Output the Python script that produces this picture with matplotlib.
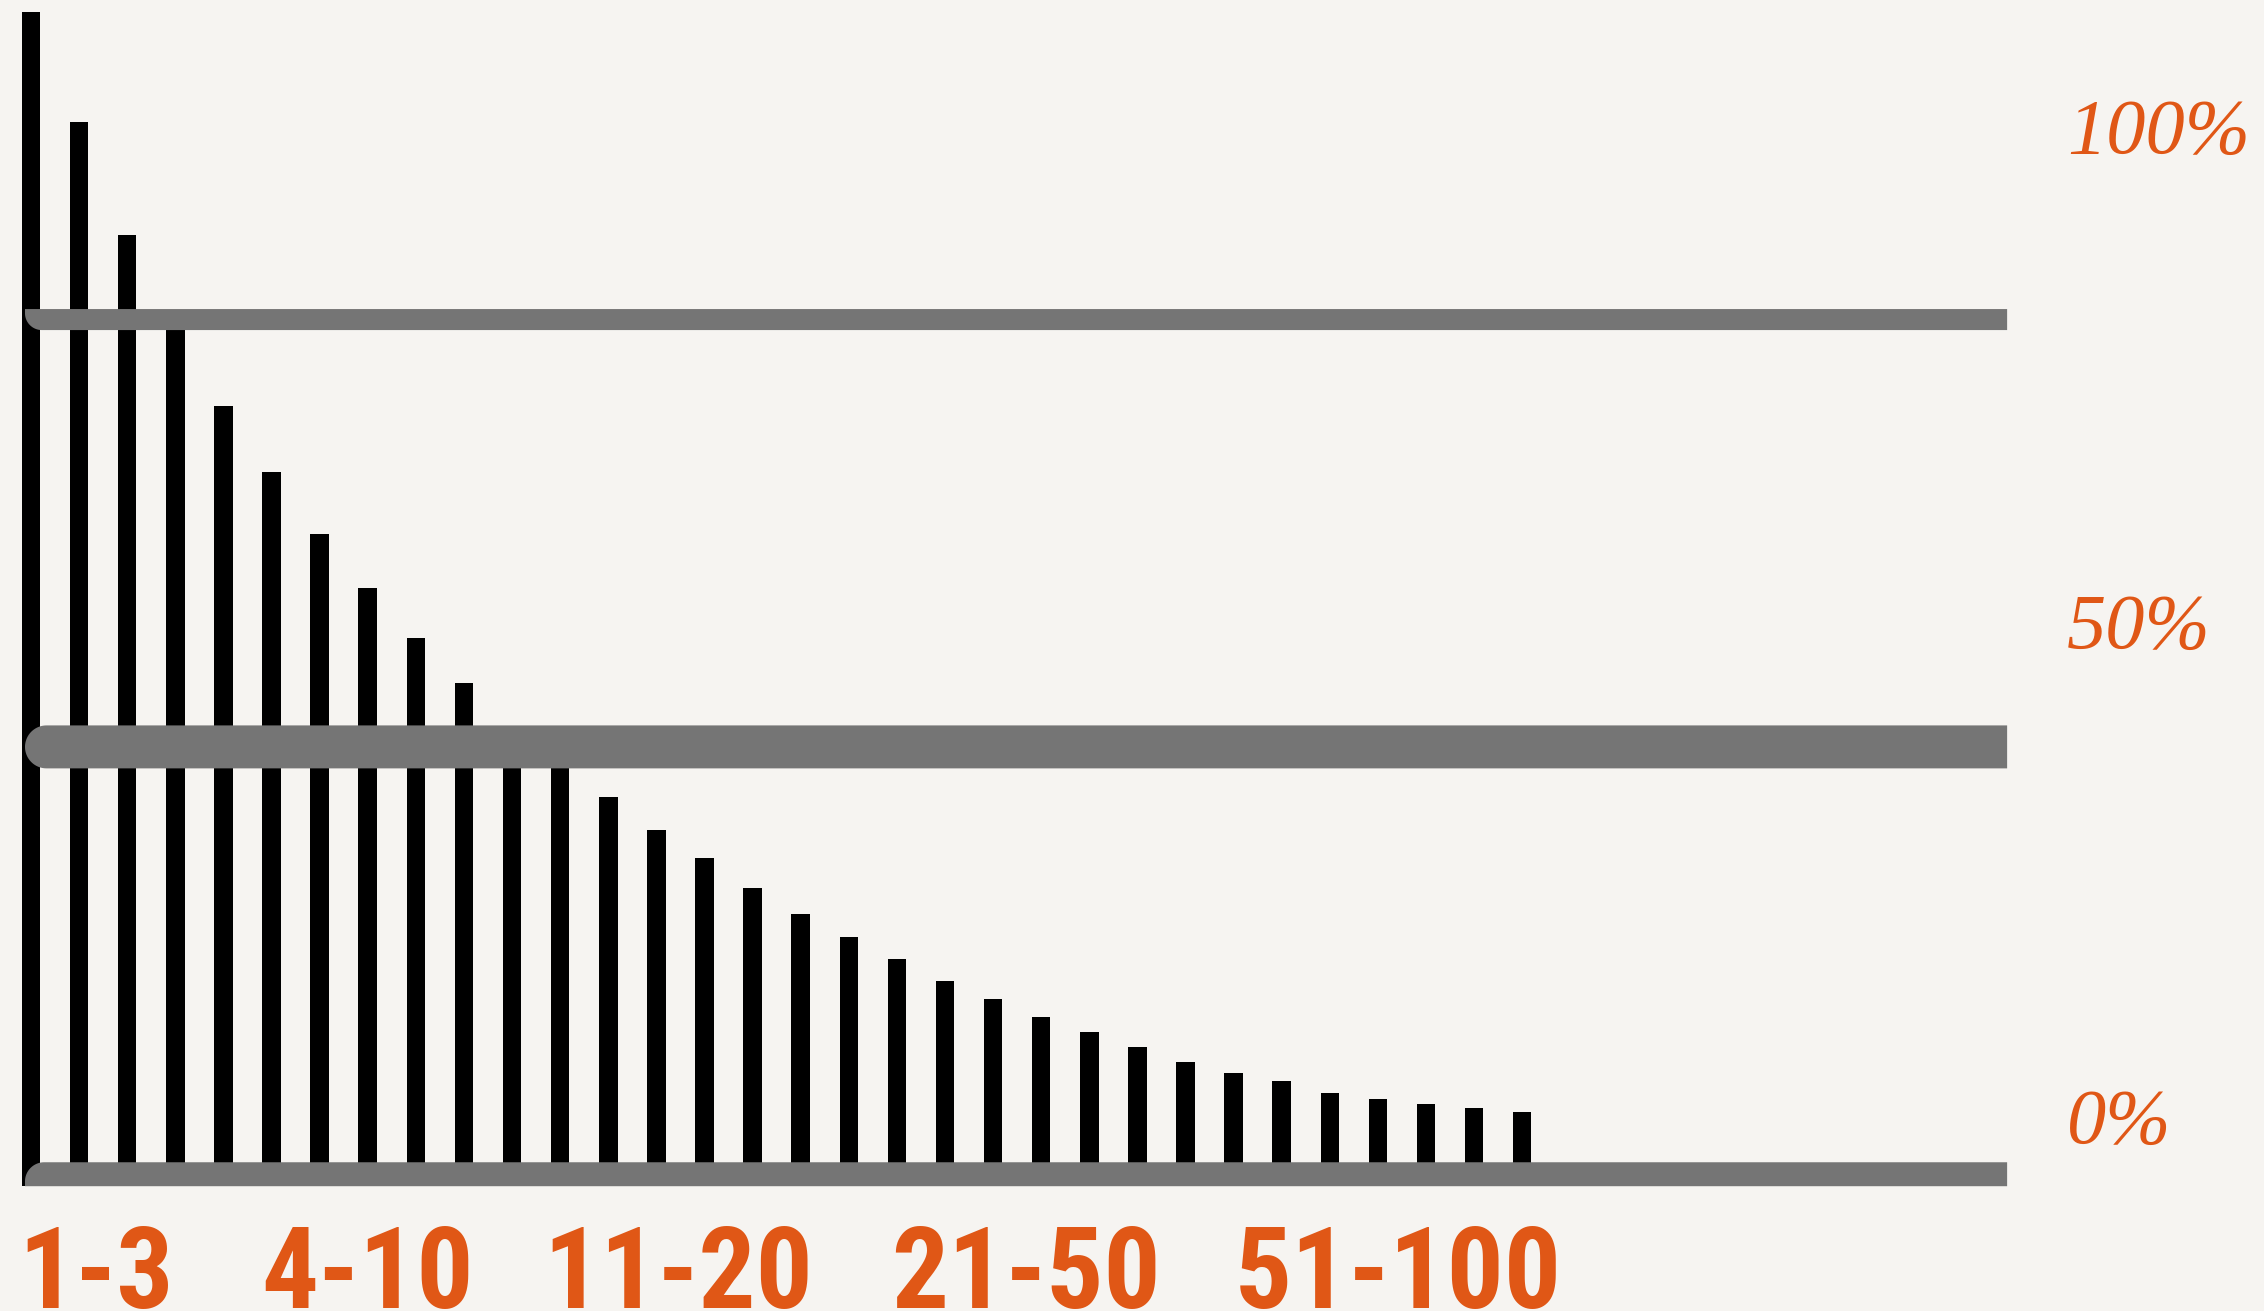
import numpy as np
import matplotlib
matplotlib.use("Agg")
import matplotlib.pyplot as plt
from matplotlib import font_manager
from matplotlib.patches import Polygon

# share of clicks by search position (first bar = reference, 100)
share = [100, 90.6, 81.0, 73.6, 66.4, 60.8, 55.5, 50.9, 46.7, 42.8,
         39.1, 36.0, 33.1, 30.3, 27.9, 25.4, 23.2, 21.2, 19.3, 17.5,
         15.9, 14.4, 13.1, 11.8, 10.6, 9.6, 8.9, 7.9, 7.4, 7.0, 6.6, 6.3]
rank = np.arange(len(share))

# bottom group labels and where they sit along the bars
range_labels = ["1-3", "4-10", "11-20", "21-50", "51-100"]
range_pos = [1.35, 6.99, 13.46, 20.68, 28.43]

# right side percentage labels
pct_labels = ["100%", "50%", "0%"]
pct_pos = [88.0, 45.8, 3.7]

# grey bands across the chart
band_levels = [73.8, 37.4, 1.0]
band_thick = [1.79, 3.66, 2.04]
band_ends = ["bl", "round", "tl"]

BG = "#f6f4f1"
ORANGE = "#e05716"
GREY = "#757575"

# pick the narrowest heavy sans that is installed
installed = {f.name for f in font_manager.fontManager.ttflist}
label_font = "DejaVu Sans"
for name in ["Liberation Sans Narrow", "Roboto Condensed", "Open Sans Condensed",
             "DejaVu Sans Condensed", "Roboto", "Inter"]:
    if name in installed:
        label_font = name
        break

fig = plt.figure(figsize=(22.64, 13.11), dpi=100)
fig.patch.set_facecolor(BG)
ax = fig.add_axes([0, 0, 1, 1])
ax.set_facecolor(BG)
ax.set_xlim(-0.6445, 46.42)
ax.set_ylim(-10.65, 101.02)
ax.axis("off")

ax.bar(rank, share, width=0.385, color="black", zorder=2)


def band(level, thick, x0, x1, end):
    # outline built in pixels so the rounded corner stays circular
    t = ax.transData
    px0, pyc = t.transform((x0, level))
    px1, _ = t.transform((x1, level))
    h = t.transform((0, thick))[1] - t.transform((0, 0))[1]
    top, bot = pyc + h / 2, pyc - h / 2
    if end == "round":
        a = np.linspace(np.pi / 2, 3 * np.pi / 2, 40)
        left = np.c_[px0 + h / 2 + h / 2 * np.cos(a), pyc + h / 2 * np.sin(a)]
    elif end == "bl":
        r = 0.8 * h
        a = np.linspace(np.pi, 1.5 * np.pi, 30)
        arc = np.c_[px0 + r + r * np.cos(a), bot + r + r * np.sin(a)]
        left = np.r_[[[px0, top]], arc]
    else:
        r = 0.8 * h
        a = np.linspace(np.pi / 2, np.pi, 30)
        arc = np.c_[px0 + r + r * np.cos(a), top - r + r * np.sin(a)]
        left = np.r_[arc, [[px0, bot]]]
    pts = np.r_[[[px1, top]], left, [[px1, bot]]]
    pts = t.inverted().transform(pts)
    ax.add_patch(Polygon(pts, closed=True, facecolor=GREY, edgecolor="none", zorder=3))


for lev, th, end in zip(band_levels, band_thick, band_ends):
    band(lev, th, -0.125, 41.08, end)

range_texts = []
for lab, x in zip(range_labels, range_pos):
    range_texts.append(ax.text(x, -10.39, lab, ha="center", va="baseline", fontsize=95,
                               fontweight="heavy", fontstretch="condensed", color=ORANGE,
                               family=[label_font, "DejaVu Sans"]))

pct_texts = []
for lab, y in zip(pct_labels, pct_pos):
    pct_texts.append(ax.text(42.33, y, lab, ha="left", va="baseline", fontsize=68,
                             style="italic", color=ORANGE,
                             family=["Liberation Serif", "DejaVu Serif"]))

# scale the font sizes so the widest labels span what the reference shows
renderer = fig.canvas.get_renderer()
k = 327 / range_texts[-1].get_window_extent(renderer).width
for t in range_texts:
    t.set_fontsize(min(95, t.get_fontsize() * k))
k = 183 / pct_texts[0].get_window_extent(renderer).width
for t in pct_texts:
    t.set_fontsize(t.get_fontsize() * k)

fig.savefig("out.png", dpi=100, facecolor=fig.get_facecolor())
